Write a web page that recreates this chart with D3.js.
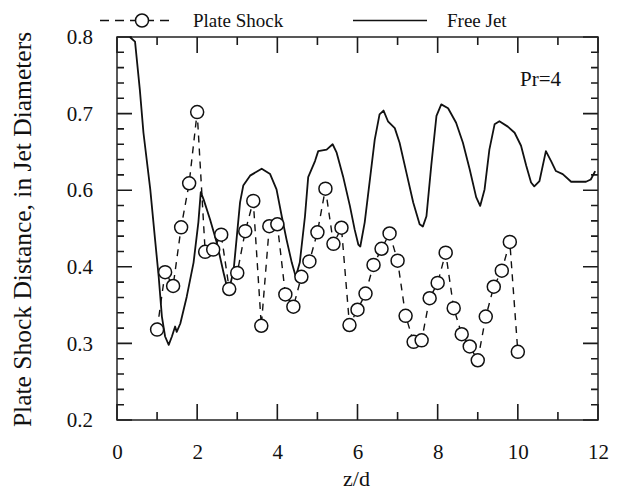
<!DOCTYPE html>
<html>
<head>
<meta charset="utf-8">
<script src="https://cdn.jsdelivr.net/npm/d3@7"></script>
<style>
  body { margin: 0; background: #fff; }
  text { font-family: "Liberation Serif", "Times New Roman", serif; fill: #111; }
</style>
</head>
<body>
<div id="chart"></div>
<script>
// Free jet curve (solid line)
const jetZ = [0.32, 0.45, 0.57, 0.66, 0.83, 0.95, 1.04, 1.12, 1.20, 1.29, 1.37, 1.45, 1.49, 1.58, 1.74, 1.91,
  2.03, 2.09, 2.16, 2.32, 2.49, 2.66, 2.78, 2.91, 3.07, 3.15, 3.32, 3.61, 3.82, 3.98, 4.11, 4.23, 4.36, 4.46,
  4.56, 4.69, 4.77, 4.94, 5.02, 5.23, 5.38, 5.48, 5.64, 5.81, 5.93, 6.02, 6.07, 6.18, 6.31, 6.43, 6.55, 6.65,
  6.76, 6.93, 7.05, 7.22, 7.39, 7.55, 7.63, 7.72, 7.84, 7.97, 8.09, 8.26, 8.46, 8.63, 8.80, 8.96, 9.06, 9.17,
  9.29, 9.42, 9.54, 9.75, 9.92, 10.08, 10.21, 10.33, 10.41, 10.54, 10.70, 10.83, 10.95, 11.12, 11.33, 11.70,
  11.82, 11.93];
const jetY = [0.800, 0.794, 0.731, 0.675, 0.601, 0.471, 0.387, 0.335, 0.309, 0.298, 0.309, 0.322, 0.315, 0.326, 0.361, 0.411,
  0.516, 0.595, 0.576, 0.524, 0.463, 0.392, 0.366, 0.396, 0.568, 0.606, 0.619, 0.628, 0.621, 0.601, 0.532, 0.471, 0.411, 0.387,
  0.411, 0.532, 0.617, 0.638, 0.651, 0.653, 0.660, 0.649, 0.618, 0.559, 0.497, 0.458, 0.453, 0.516, 0.614, 0.666, 0.699, 0.704,
  0.690, 0.681, 0.662, 0.623, 0.568, 0.511, 0.505, 0.532, 0.632, 0.697, 0.712, 0.707, 0.688, 0.662, 0.627, 0.582, 0.559, 0.601,
  0.653, 0.686, 0.690, 0.683, 0.675, 0.658, 0.632, 0.610, 0.605, 0.612, 0.651, 0.638, 0.625, 0.621, 0.611, 0.611,
  0.614, 0.625];

// Plate shock (circles joined by dashes)
const shockZ = [1.0, 1.2, 1.4, 1.6, 1.8, 2.0, 2.2, 2.4, 2.6, 2.8, 3.0, 3.2, 3.4, 3.6, 3.8, 4.0, 4.2, 4.4, 4.6, 4.8,
  5.0, 5.2, 5.4, 5.6, 5.8, 6.0, 6.2, 6.4, 6.6, 6.8, 7.0, 7.2, 7.4, 7.6, 7.8, 8.0, 8.2, 8.4, 8.6, 8.8,
  9.0, 9.2, 9.4, 9.6, 9.8, 10.0];
const shockY = [0.318, 0.393, 0.375, 0.503, 0.609, 0.702, 0.439, 0.445, 0.484, 0.371, 0.392, 0.493, 0.572, 0.323, 0.506, 0.511,
  0.364, 0.348, 0.387, 0.414, 0.490, 0.602, 0.460, 0.502, 0.324, 0.344, 0.365, 0.405, 0.447, 0.487, 0.416, 0.336,
  0.302, 0.304, 0.359, 0.379, 0.437, 0.346, 0.312, 0.296, 0.278, 0.335, 0.374, 0.395, 0.465, 0.289];

const xTicks = [0, 2, 4, 6, 8, 10, 12];
const xMinorTicks = [1, 3, 5, 7, 9, 11];
// the printed axis skips 0.5, its labels run 0.2 0.3 0.4 0.6 0.7 0.8 at even spacing
const yTicks = [0.2, 0.3, 0.4, 0.6, 0.7, 0.8];
const yTickLabels = ["0.2", "0.3", "0.4", "0.6", "0.7", "0.8"];

const W = 617, H = 491;
const plotLeft = 117, plotRight = 598, plotTop = 37, plotBottom = 420;

const svg = d3.select("#chart").append("svg")
  .attr("width", W).attr("height", H);

const x = d3.scaleLinear().domain([0, 12]).range([plotLeft, plotRight]);
const step = (plotBottom - plotTop) / 5;
const y = d3.scaleLinear()
  .domain([0.2, 0.4, 0.6, 0.8])
  .range([plotBottom, plotBottom - 2 * step, plotBottom - 3 * step, plotTop]);

// minor tick values: 4 between each pair of labelled ticks
const yMinor = [];
for (let i = 0; i < yTicks.length - 1; i++) {
  const a = yTicks[i], b = yTicks[i + 1];
  for (let k = 1; k < 5; k++) yMinor.push(a + (b - a) * k / 5);
}

// tick labels through d3 axes (no tick lines, no domain)
function labelAxis(g) {
  g.select(".domain").remove();
  g.selectAll(".tick line").remove();
  g.selectAll(".tick text")
    .style("font-family", "'Liberation Serif', serif")
    .style("font-size", "21px")
    .attr("fill", "#111");
}
svg.append("g").attr("transform", `translate(0,${plotBottom})`)
  .call(d3.axisBottom(x).tickValues(xTicks).tickSize(0).tickPadding(24).tickFormat(d3.format("d")))
  .call(labelAxis);
svg.append("g").attr("transform", `translate(${plotLeft},0)`)
  .call(d3.axisLeft(y).tickValues(yTicks).tickSize(0).tickPadding(24)
    .tickFormat((d, i) => yTickLabels[i]))
  .call(labelAxis);

// inward tick marks on all four sides, one path per set
function tickPath(vals, len, horizontal) {
  let d = "";
  vals.forEach(v => {
    if (horizontal) {
      const px = x(v);
      d += `M${px},${plotBottom}V${plotBottom - len}M${px},${plotTop}V${plotTop + len}`;
    } else {
      const py = y(v);
      d += `M${plotLeft},${py}H${plotLeft + len}M${plotRight},${py}H${plotRight - len}`;
    }
  });
  svg.append("path")
    .attr("d", d)
    .attr("fill", "none")
    .attr("stroke", "#1a1a1a")
    .attr("stroke-width", 1.6);
}
tickPath(xTicks, 16, true);
tickPath(xMinorTicks, 8, true);
tickPath(yTicks, 15, false);
tickPath(yMinor, 7, false);

// frame
svg.append("rect")
  .attr("x", plotLeft).attr("y", plotTop)
  .attr("width", plotRight - plotLeft).attr("height", plotBottom - plotTop)
  .attr("fill", "none").attr("stroke", "#222").attr("stroke-width", 1.5);

// free jet
const jet = jetZ.map((z, i) => [z, jetY[i]]);
svg.append("path")
  .datum(jet)
  .attr("fill", "none")
  .attr("stroke", "#111")
  .attr("stroke-width", 1.8)
  .attr("stroke-linejoin", "round")
  .attr("d", d3.line().x(d => x(d[0])).y(d => y(d[1])));

// plate shock
const shock = shockZ.map((z, i) => [z, shockY[i]]);
svg.append("path")
  .datum(shock)
  .attr("fill", "none")
  .attr("stroke", "#111")
  .attr("stroke-width", 1.4)
  .attr("stroke-dasharray", "7,6")
  .attr("d", d3.line().x(d => x(d[0])).y(d => y(d[1])));

svg.append("g").selectAll("circle")
  .data(shock)
  .join("circle")
  .attr("cx", d => x(d[0]))
  .attr("cy", d => y(d[1]))
  .attr("r", 6.5)
  .attr("fill", "#fff")
  .attr("stroke", "#111")
  .attr("stroke-width", 1.5);

// legend
const leg = svg.append("g");
leg.append("line")
  .attr("x1", 100).attr("x2", 175).attr("y1", 20.5).attr("y2", 20.5)
  .attr("stroke", "#111").attr("stroke-width", 1.4).attr("stroke-dasharray", "9,6");
leg.append("circle")
  .attr("cx", 142).attr("cy", 20.5).attr("r", 6.5)
  .attr("fill", "#fff").attr("stroke", "#111").attr("stroke-width", 1.5);
leg.append("text").attr("x", 193).attr("y", 27).style("font-size", "19px").text("Plate Shock");
leg.append("line")
  .attr("x1", 353).attr("x2", 427).attr("y1", 20.5).attr("y2", 20.5)
  .attr("stroke", "#111").attr("stroke-width", 1.5);
leg.append("text").attr("x", 447).attr("y", 27).style("font-size", "19px").text("Free Jet");

// annotation
svg.append("text").attr("x", 520).attr("y", 86).style("font-size", "21px").text("Pr=4");

// axis titles
svg.append("text")
  .attr("x", (plotLeft + plotRight) / 2 - 1).attr("y", 486)
  .attr("text-anchor", "middle")
  .style("font-size", "22px")
  .text("z/d");

svg.append("text")
  .attr("transform", `translate(31,${(plotTop + plotBottom) / 2 + 1}) rotate(-90)`)
  .attr("text-anchor", "middle")
  .style("font-size", "25.5px")
  .text("Plate Shock Distance, in Jet Diameters");
</script>
</body>
</html>
